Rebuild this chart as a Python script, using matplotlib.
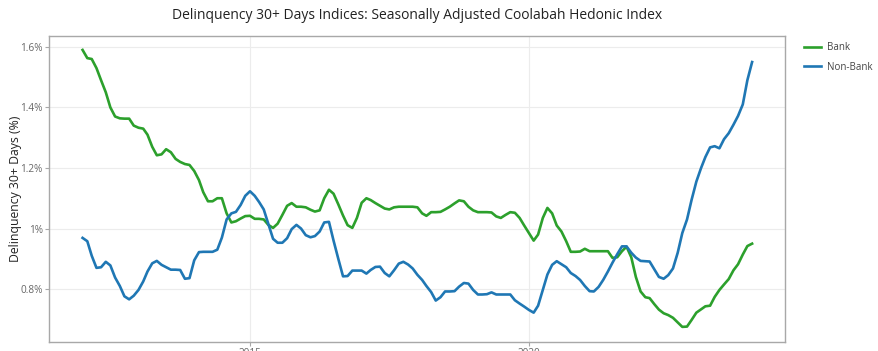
import pandas as pd
import matplotlib.pyplot as plt
import matplotlib.dates as mdates
from matplotlib.ticker import FuncFormatter, FixedLocator

plt.rcParams['font.family'] = ['Open Sans', 'DejaVu Sans']

# monthly data, Jan 2012 .. Jan 2024
dates = pd.date_range('2012-01-01', periods=145, freq='MS')

bank = [
    1.59, 1.563, 1.56, 1.53, 1.49, 1.45, 1.40, 1.37, 1.364, 1.363,
    1.363, 1.34, 1.333, 1.33, 1.31, 1.27, 1.242, 1.245, 1.262, 1.252,
    1.23, 1.22, 1.213, 1.21, 1.19, 1.16, 1.12, 1.09, 1.09, 1.10,
    1.10, 1.05, 1.02, 1.024, 1.033, 1.041, 1.042, 1.032, 1.032, 1.03,
    1.012, 1.002, 1.016, 1.045, 1.075, 1.084, 1.072, 1.072, 1.07, 1.062,
    1.056, 1.06, 1.10, 1.128, 1.115, 1.08, 1.043, 1.011, 1.002, 1.035,
    1.085, 1.10, 1.094, 1.084, 1.075, 1.066, 1.063, 1.07, 1.072, 1.072,
    1.072, 1.072, 1.07, 1.05, 1.042, 1.054, 1.054, 1.055, 1.063, 1.072,
    1.083, 1.093, 1.09, 1.072, 1.06, 1.054, 1.054, 1.054, 1.053, 1.04,
    1.035, 1.045, 1.054, 1.052, 1.035, 1.01, 0.985, 0.96, 0.98, 1.035,
    1.068, 1.05, 1.01, 0.99, 0.958, 0.923, 0.923, 0.924, 0.933, 0.925,
    0.925, 0.925, 0.925, 0.925, 0.903, 0.905, 0.925, 0.94, 0.905, 0.84,
    0.792, 0.773, 0.77, 0.75, 0.732, 0.72, 0.714, 0.705, 0.69, 0.675,
    0.676, 0.698, 0.722, 0.733, 0.743, 0.745, 0.774, 0.797, 0.815, 0.833,
    0.862, 0.882, 0.914, 0.942, 0.95,
]

non_bank = [
    0.969, 0.958, 0.91, 0.87, 0.872, 0.89, 0.878, 0.838, 0.81, 0.776,
    0.766, 0.778, 0.797, 0.825, 0.858, 0.885, 0.893, 0.88, 0.872, 0.864,
    0.864, 0.863, 0.834, 0.836, 0.895, 0.922, 0.923, 0.923, 0.923, 0.93,
    0.97, 1.03, 1.05, 1.055, 1.078, 1.108, 1.123, 1.108, 1.088, 1.063,
    1.015, 0.966, 0.953, 0.953, 0.968, 0.998, 1.012, 1.0, 0.978, 0.971,
    0.975, 0.99, 1.02, 1.022, 0.96, 0.9, 0.842, 0.843, 0.861, 0.861,
    0.861, 0.851, 0.863, 0.873, 0.874, 0.853, 0.842, 0.862, 0.884, 0.89,
    0.881, 0.868, 0.847, 0.83, 0.81, 0.79, 0.762, 0.773, 0.792, 0.792,
    0.793, 0.808, 0.82, 0.818, 0.797, 0.782, 0.782, 0.783, 0.789, 0.782,
    0.782, 0.782, 0.782, 0.763, 0.752, 0.742, 0.731, 0.722, 0.745, 0.798,
    0.848, 0.88, 0.892, 0.882, 0.872, 0.853, 0.843, 0.83, 0.81, 0.793,
    0.792, 0.807, 0.83, 0.858, 0.887, 0.915, 0.941, 0.941, 0.92, 0.904,
    0.893, 0.892, 0.891, 0.865, 0.84, 0.834, 0.846, 0.868, 0.92, 0.985,
    1.03, 1.095, 1.155, 1.2, 1.236, 1.268, 1.272, 1.265, 1.295, 1.315,
    1.343, 1.372, 1.41, 1.49, 1.55,
]

x_ticks = ['2015-01-01', '2020-01-01']
y_ticks = [0.8, 1.0, 1.2, 1.4, 1.6]

fig = plt.figure(figsize=(8.79, 3.51), dpi=100)
ax = fig.add_axes([0.0557, 0.0256, 0.8373, 0.8718])

l1, = ax.plot(dates, bank, color='#2ca02c', lw=1.9, label='Bank')
l2, = ax.plot(dates, non_bank, color='#1f77b4', lw=1.9, label='Non-Bank')

ax.set_xlim(pd.Timestamp('2011-05-26'), pd.Timestamp('2024-08-03'))
ax.set_ylim(0.625, 1.636)

ax.xaxis.set_major_locator(FixedLocator(mdates.date2num(pd.to_datetime(x_ticks))))
ax.xaxis.set_major_formatter(mdates.DateFormatter('%Y'))
ax.yaxis.set_major_locator(FixedLocator(y_ticks))
ax.yaxis.set_major_formatter(FuncFormatter(lambda v, p: '%g%%' % round(v, 2)))

ax.grid(True, color='#ececec', lw=0.8)
ax.set_axisbelow(True)
for s in ax.spines.values():
    s.set_color('#a8a8a8')
    s.set_linewidth(1.0)
ax.tick_params(axis='both', colors='#a8a8a8', labelcolor='#666666', labelsize=7.2, length=3, width=0.8, pad=1.5)

ax.set_ylabel('Delinquency 30+ Days (%)', fontsize=8.8, color='#222222')
ax.yaxis.set_label_coords(-0.036, 0.5)
ax.set_title('Delinquency 30+ Days Indices: Seasonally Adjusted Coolabah Hedonic Index',
             fontsize=10, color='#222222', pad=12)

fig.legend(handles=[l1, l2], loc='upper left', bbox_to_anchor=(0.905, 0.905), frameon=False,
           fontsize=7, handlelength=1.7, handletextpad=0.6, labelspacing=0.9, labelcolor='#444444')

fig.savefig('out.png', dpi=100)
